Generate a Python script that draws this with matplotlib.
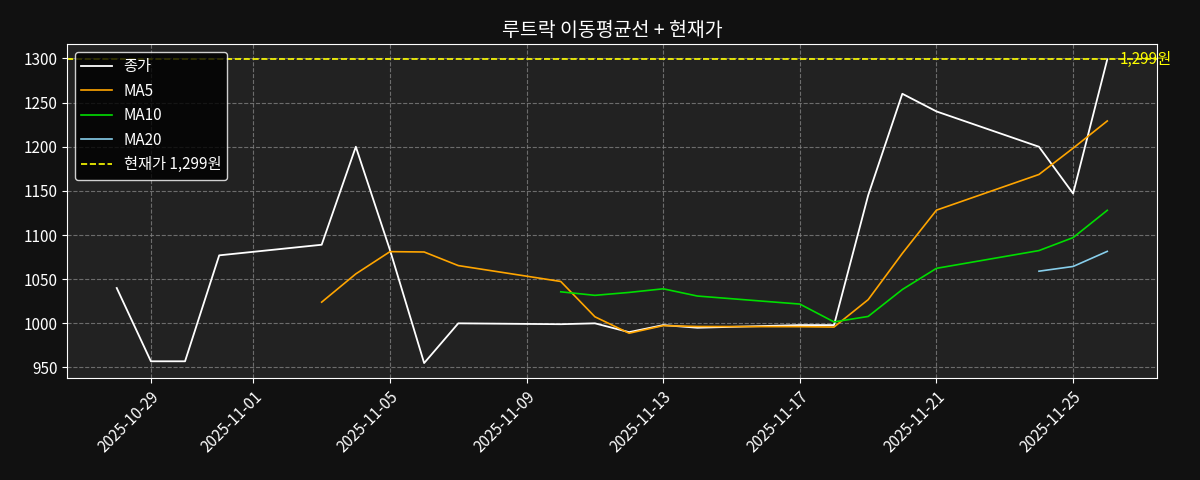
import pandas as pd
import matplotlib
matplotlib.use("Agg")
import matplotlib.pyplot as plt
import matplotlib.dates as mdates

plt.rcParams["font.family"] = ["Noto Sans CJK KR", "DejaVu Sans"]

dates = ["2025-10-28", "2025-10-29", "2025-10-30", "2025-10-31",
         "2025-11-03", "2025-11-04", "2025-11-05", "2025-11-06", "2025-11-07",
         "2025-11-10", "2025-11-11", "2025-11-12", "2025-11-13", "2025-11-14",
         "2025-11-17", "2025-11-18", "2025-11-19", "2025-11-20", "2025-11-21",
         "2025-11-24", "2025-11-25", "2025-11-26"]
close = [1040, 957, 957, 1077,
         1089, 1200, 1083, 955, 1000,
         999, 1000, 990, 998, 995,
         998, 998, 1145, 1260, 1240,
         1200, 1147, 1299]
current = 1299

df = pd.DataFrame({"close": close}, index=pd.to_datetime(dates))
df["ma5"] = df["close"].rolling(5).mean()
df["ma10"] = df["close"].rolling(10).mean()
df["ma20"] = df["close"].rolling(20).mean()

fig, ax = plt.subplots(figsize=(12, 4.8), dpi=100)
fig.patch.set_facecolor("#111111")
ax.set_facecolor("#222222")

ax.plot(df.index, df["close"], color="white", lw=1.3, label="종가")
ax.plot(df.index, df["ma5"], color="orange", lw=1.2, label="MA5")
ax.plot(df.index, df["ma10"], color="#00dd00", lw=1.2, label="MA10")
ax.plot(df.index, df["ma20"], color="skyblue", lw=1.2, label="MA20")
ax.axhline(current, color="yellow", ls="--", lw=1.2, label=f"현재가 {current:,}원")
ax.text(df.index[-1] + pd.Timedelta(days=0.35), current, f"{current:,}원",
        color="yellow", va="center", fontsize=11)

ax.set_title("루트락 이동평균선 + 현재가", color="white", fontsize=14)
ax.xaxis.set_major_locator(mdates.DayLocator(bymonthday=[1, 5, 9, 13, 17, 21, 25, 29]))
ax.xaxis.set_major_formatter(mdates.DateFormatter("%Y-%m-%d"))
plt.setp(ax.get_xticklabels(), rotation=45, ha="right", rotation_mode="anchor")
ax.set_yticks(range(950, 1301, 50))
ax.tick_params(colors="white", labelsize=11)
for s in ax.spines.values():
    s.set_color("white")
ax.grid(True, ls="--", color="gray", alpha=0.8)

leg = ax.legend(loc="upper left", facecolor="black", edgecolor="white", fontsize=11)
for t in leg.get_texts():
    t.set_color("white")

fig.subplots_adjust(left=0.056, right=0.964, top=0.908, bottom=0.212)
fig.savefig("out.png", facecolor=fig.get_facecolor())
